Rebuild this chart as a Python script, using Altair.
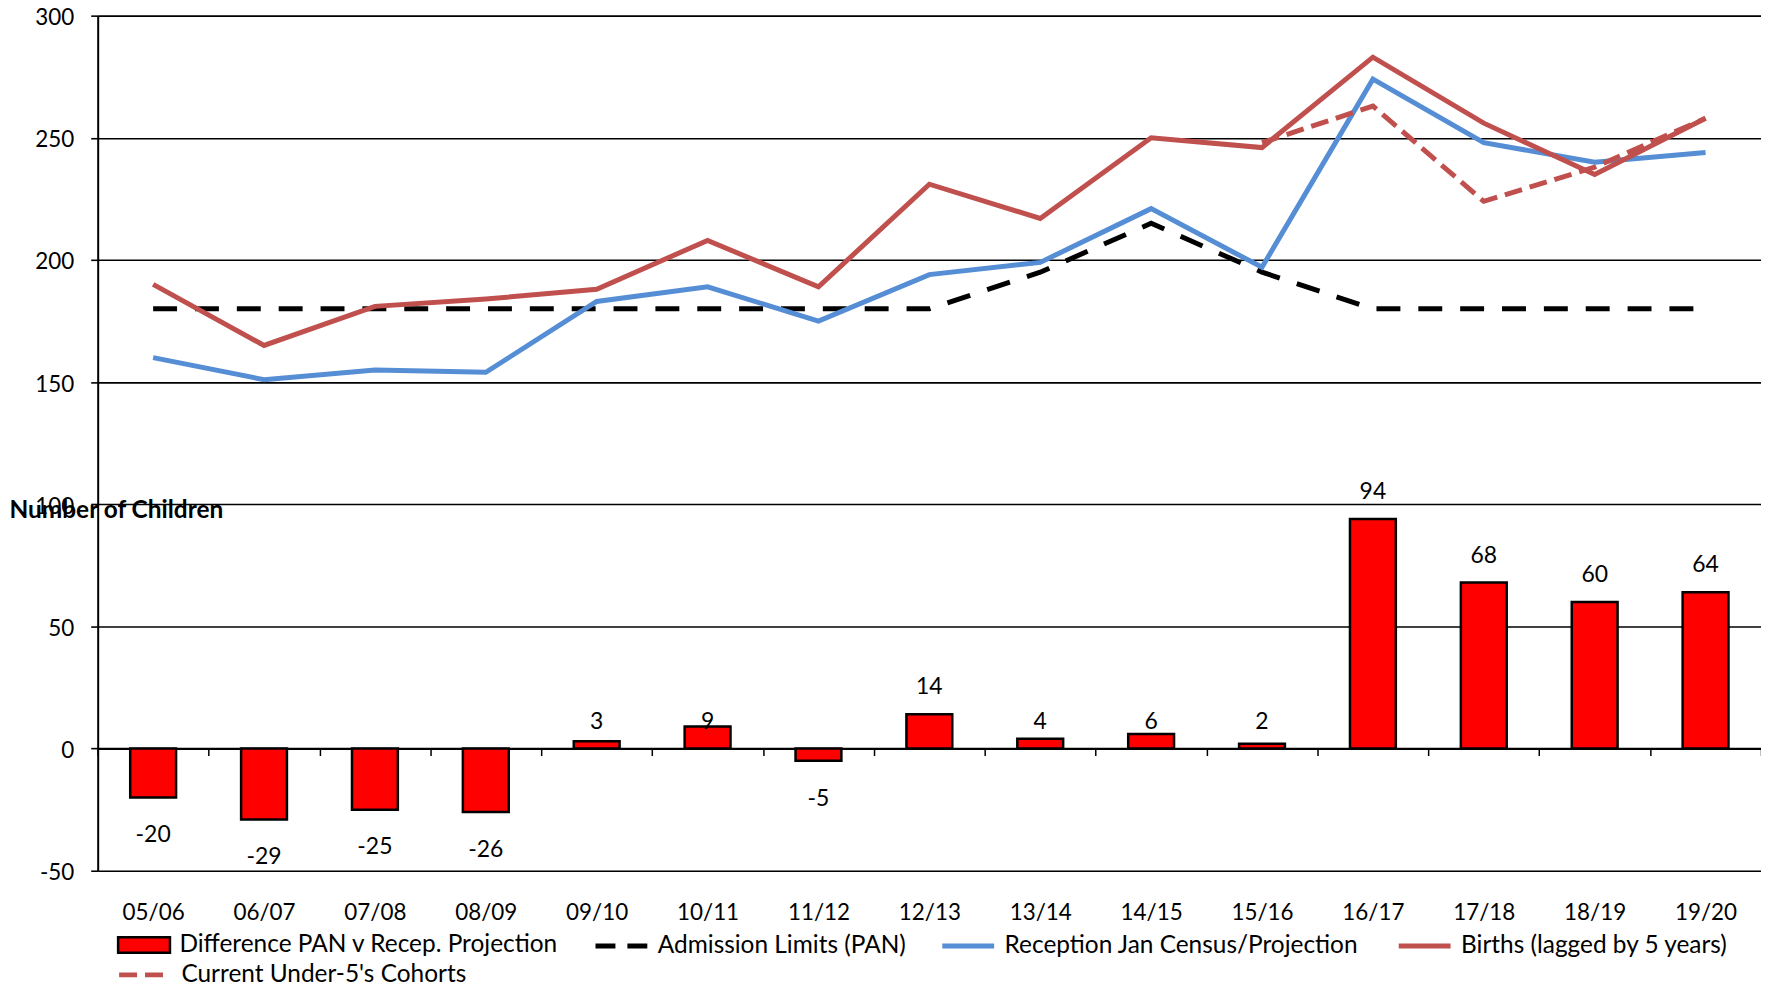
import altair as alt
import pandas as pd

years = ["05/06", "06/07", "07/08", "08/09", "09/10", "10/11", "11/12", "12/13",
         "13/14", "14/15", "15/16", "16/17", "17/18", "18/19", "19/20"]
pan = [180, 180, 180, 180, 180, 180, 180, 180, 195, 215, 195, 180, 180, 180, 180]
reception = [160, 151, 155, 154, 183, 189, 175, 194, 199, 221, 197, 274, 248, 240, 244]
births = [190, 165, 181, 184, 188, 208, 189, 231, 217, 250, 246, 283, 256, 235, 258]
under5_years = ["15/16", "16/17", "17/18", "18/19", "19/20"]
under5 = [248, 263, 224, 238, 258]
diff = [-20, -29, -25, -26, 3, 9, -5, 14, 4, 6, 2, 94, 68, 60, 64]

S_DIFF = "Difference PAN v Recep. Projection"
S_PAN = "Admission Limits (PAN)"
S_REC = "Reception Jan Census/Projection"
S_BIR = "Births (lagged by 5 years)"
S_U5 = "Current Under-5's Cohorts"

pan_df = pd.DataFrame({"year": years, "value": pan, "series": S_PAN})
rb_df = pd.concat([
    pd.DataFrame({"year": years, "value": reception, "series": S_REC}),
    pd.DataFrame({"year": years, "value": births, "series": S_BIR}),
])
u5_df = pd.DataFrame({"year": under5_years, "value": under5, "series": S_U5})
bars_df = pd.DataFrame({"year": years, "value": diff, "series": S_DIFF})

FONT = "Lato"
AX_FS = 22.5
LEG_FS = 24.5
W, H = 1669, 858
PAD_TOP = 6
Y_MIN, Y_MAX = -50, 300
zero_offset = -(0 - Y_MIN) / (Y_MAX - Y_MIN) * H   # move x axis up to y = 0

x_enc = alt.X("year:N", sort=years,
              scale=alt.Scale(paddingInner=0, paddingOuter=0),
              axis=alt.Axis(title=None, labelAngle=0, offset=zero_offset, tickBand="extent",
                            domainColor="#000", domainWidth=2, tickColor="#000", tickWidth=1.5,
                            tickSize=7, labelFont=FONT, labelFontSize=AX_FS, labelColor="#000",
                            labelBaseline="middle", labelPadding=158, grid=False))
x_plain = alt.X("year:N", sort=years)
y_scale = alt.Scale(domain=[Y_MIN, Y_MAX], nice=False, zero=False)
y_axis = alt.Axis(values=[-50, 0, 50, 100, 150, 200, 250, 300], grid=True, gridColor="#000",
                  gridWidth=1.6, domainColor="#000", domainWidth=2, tickColor="#000",
                  tickWidth=1.6, tickSize=7, labelFont=FONT, labelFontSize=AX_FS,
                  labelColor="#000", labelPadding=17, labelOffset=2,
                  labelExpr="'' + datum.value",
                  title="Number of Children", titleAngle=0, titleX=-89,
                  titleY=497, titleAlign="left", titleBaseline="middle", titleFont=FONT,
                  titleFontSize=24.5, titleFontWeight="bold", titleColor="#000")

LEG_Y1 = 905
LEG_Y2 = 934
common = dict(title=None, orient="none", labelFont=FONT, labelFontSize=LEG_FS, labelColor="#000",
              labelLimit=0, labelOffset=8, symbolSize=2704, padding=0)

bars = alt.Chart(bars_df).mark_bar(size=46, stroke="#000", strokeWidth=2.5).encode(
    x=x_enc, y=alt.Y("value:Q", scale=y_scale, axis=y_axis),
    fill=alt.Fill("series:N", scale=alt.Scale(domain=[S_DIFF], range=["#FF0000"]),
                  legend=alt.Legend(legendX=19, legendY=LEG_Y1,
                                    symbolType="M-1,-0.3H1V0.3H-1Z",
                                    symbolStrokeColor="#000", symbolStrokeWidth=2.5,
                                    symbolFillColor="#FF0000", **common)))

labels = alt.Chart(bars_df).transform_calculate(
    lab="datum.value >= 10 ? datum.value + 11 : (datum.value >= 0 ? 11 : datum.value - 15.5)",
    txt="toString(datum.value)"
).mark_text(font=FONT, fontSize=23, baseline="middle", color="#000").encode(
    x=x_plain, y=alt.Y("lab:Q", scale=y_scale), text=alt.Text("txt:N"))

pan_line = alt.Chart(pan_df).mark_line(strokeWidth=5, stroke="#000", strokeDash=[24, 18]).encode(
    x=x_plain, y=alt.Y("value:Q", scale=y_scale),
    opacity=alt.Opacity("series:N", scale=alt.Scale(type="point", domain=[S_PAN], range=[1, 1]),
                        legend=alt.Legend(legendX=497, legendY=LEG_Y1, symbolType="stroke",
                                          symbolStrokeColor="#000", symbolStrokeWidth=5,
                                          symbolDash=[20, 12], **common)))

rb_lines = alt.Chart(rb_df).mark_line(strokeWidth=5).encode(
    x=x_plain, y=alt.Y("value:Q", scale=y_scale),
    stroke=alt.Stroke("series:N", scale=alt.Scale(domain=[S_REC, S_BIR],
                                                  range=["#558ED5", "#C0504D"]),
                      legend=alt.Legend(legendX=845, legendY=LEG_Y1, symbolType="stroke",
                                        symbolStrokeWidth=5, columns=2, columnPadding=29,
                                        direction="horizontal", **common)))

u5_line = alt.Chart(u5_df).mark_line(strokeWidth=5, stroke="#C0504D").encode(
    x=x_plain, y=alt.Y("value:Q", scale=y_scale),
    strokeDash=alt.StrokeDash("series:N", scale=alt.Scale(domain=[S_U5], range=[[18, 8]]),
                              legend=alt.Legend(legendX=19, legendY=LEG_Y2, symbolType="stroke",
                                                symbolStrokeColor="#C0504D",
                                                symbolStrokeWidth=5, **common)))

chart = alt.layer(bars, labels, pan_line, rb_lines, u5_line).properties(
    width=W, height=H,
    autosize=alt.AutoSizeParams(type="none"),
    padding={"left": 90, "top": PAD_TOP, "right": 0, "bottom": 116},
).configure_view(stroke=None).configure(background="white")

chart.save("out.html", embed_options={"renderer": "svg", "actions": False})
